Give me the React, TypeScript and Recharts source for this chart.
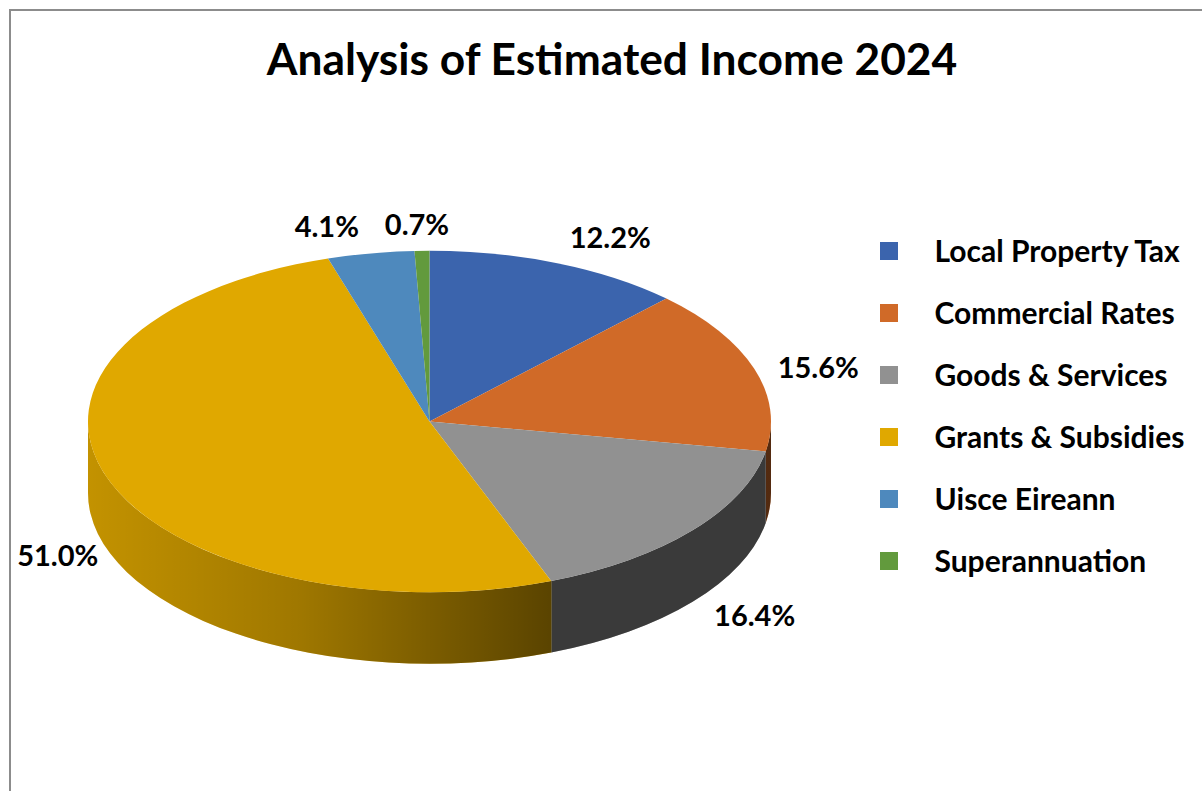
import React from "react";
import { PieChart, Pie, Legend } from "recharts";

const categories = ["Local Property Tax", "Commercial Rates", "Goods & Services", "Grants & Subsidies", "Uisce Eireann", "Superannuation"];
const shares = [12.2, 15.6, 16.4, 51.0, 4.1, 0.7];
const colors = ["#3b64ad", "#d06a28", "#919191", "#e0a800", "#4e89bd", "#629a3d"];
const labelDx = [53, 64, 62, -49, -44, -5];
const labelDy = [-27, -2, 84, 77, -28, -27];
const TITLE = "Analysis of Estimated Income 2024";
const FONT = "Lato, Carlito, sans-serif";
const TILT = 0.5;
const DEPTH = 71.5;

const tableData = categories.map((name, i) => ({ name, value: shares[i], fill: colors[i] }));
const rad = (d: number) => (d * Math.PI) / 180;

function Slice3D(props: any) {
  const { cx, cy, outerRadius: rx, startAngle, endAngle, fill } = props;
  const ry = rx * TILT;
  const pt = (a: number, drop = 0) => [cx + rx * Math.cos(rad(a)), cy - ry * Math.sin(rad(a)) + drop];
  const [x0, y0] = pt(startAngle);
  const [x1, y1] = pt(endAngle);
  const large = Math.abs(startAngle - endAngle) > 180 ? 1 : 0;
  const top = `M${cx},${cy}L${x0},${y0}A${rx},${ry} 0 ${large} 1 ${x1},${y1}Z`;
  const a0 = Math.min(startAngle, 0);
  const a1 = Math.max(endAngle, -180);
  let wall = null;
  if (a0 > a1) {
    const [wx0, wy0] = pt(a0);
    const [wx1, wy1] = pt(a1);
    const d = `M${wx0},${wy0}A${rx},${ry} 0 0 1 ${wx1},${wy1}L${wx1},${wy1 + DEPTH}A${rx},${ry} 0 0 0 ${wx0},${wy0 + DEPTH}Z`;
    wall = (
      <>
        <path d={d} fill={fill} />
        <path d={d} fill="url(#wallShade)" />
      </>
    );
  }
  return (
    <g>
      {wall}
      <path d={top} fill={fill} />
    </g>
  );
}

function SliceLabel(props: any) {
  const { cx, cy, outerRadius: rx, midAngle, index, value } = props;
  const x = cx + rx * Math.cos(rad(midAngle)) + labelDx[index];
  const y = cy - rx * TILT * Math.sin(rad(midAngle)) + labelDy[index];
  return (
    <text x={x} y={y} textAnchor="middle" dominantBaseline="central" fontFamily={FONT} fontWeight={700} fontSize={29} fill="#000">
      {value.toFixed(1)}%
    </text>
  );
}

function LegendList({ payload }: any) {
  return (
    <div style={{ fontFamily: FONT, fontWeight: 700, fontSize: 30, color: "#000" }}>
      {(payload || []).map((p: any) => (
        <div key={p.value} style={{ height: 62, display: "flex", alignItems: "center", whiteSpace: "nowrap" }}>
          <span style={{ width: 18, height: 18, background: p.color, marginRight: 37, flex: "none" }} />
          <span style={{ position: "relative", top: -1, left: -0.5 }}>{p.value}</span>
        </div>
      ))}
    </div>
  );
}

export default function App() {
  return (
    <div style={{ position: "absolute", left: 0, top: 0, width: 1202, height: 791, overflow: "hidden", background: "#fff" }}>
      <div style={{ position: "absolute", left: 9, top: 9, right: 0, bottom: 0, borderLeft: "2px solid #8c8c8c", borderTop: "2px solid #8c8c8c" }} />
      <PieChart width={1202} height={791} margin={{ top: 0, right: 0, bottom: 0, left: 0 }}>
        <defs>
          <linearGradient id="wallShade" gradientUnits="userSpaceOnUse" x1={88} x2={772} y1={0} y2={0}>
            <stop offset="0" stopColor="#000" stopOpacity={0.13} />
            <stop offset="0.31" stopColor="#000" stopOpacity={0.29} />
            <stop offset="0.68" stopColor="#000" stopOpacity={0.6} />
            <stop offset="1" stopColor="#000" stopOpacity={0.6} />
          </linearGradient>
        </defs>
        <text x={612} y={75} textAnchor="middle" fontFamily={FONT} fontWeight={700} fontSize={44.3} fill="#000">
          {TITLE}
        </text>
        <Pie
          data={tableData}
          dataKey="value"
          nameKey="name"
          cx={429.5}
          cy={421.5}
          outerRadius={341.5}
          innerRadius={0}
          startAngle={90}
          endAngle={-270}
          stroke="none"
          shape={Slice3D}
          label={SliceLabel}
          labelLine={false}
          isAnimationActive={false}
        />
        <Legend
          layout="vertical"
          align="right"
          verticalAlign="top"
          itemSorter={null}
          content={<LegendList />}
          wrapperStyle={{ left: 880, top: 220, width: 322 }}
        />
      </PieChart>
    </div>
  );
}
